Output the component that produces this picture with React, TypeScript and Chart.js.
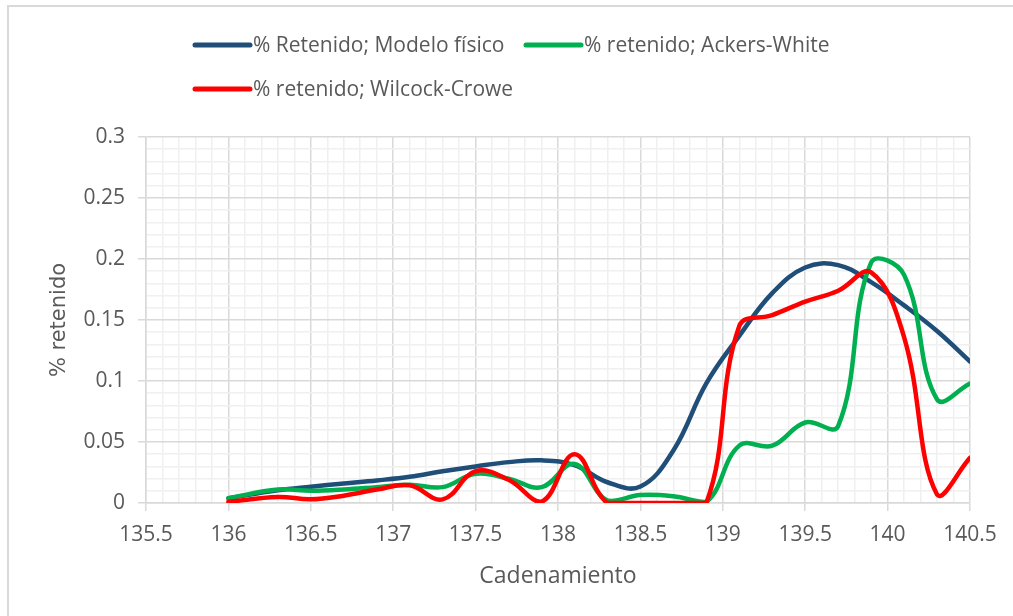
import React, { useEffect, useRef } from 'react';
import { Chart, registerables } from 'chart.js';

Chart.register(...registerables);

// ---- data ----
const cadenamiento = [136, 136.3, 136.5, 136.7, 136.9, 137.1, 137.3, 137.5, 137.7, 137.9, 138.1, 138.3, 138.5, 138.7, 138.9, 139.1, 139.3, 139.5, 139.7, 139.9, 140.1, 140.3, 140.5];
const modeloFisico = [0.004, 0.0105, 0.0134, 0.016, 0.0185, 0.0215, 0.026, 0.030, 0.0335, 0.035, 0.031, 0.017, 0.0135, 0.043, 0.098, 0.137, 0.172, 0.193, 0.195, 0.181, 0.162, 0.141, 0.116];
const ackersWhite = [0.004, 0.011, 0.010, 0.011, 0.013, 0.015, 0.013, 0.024, 0.020, 0.013, 0.032, 0.002, 0.0065, 0.0055, 0.001, 0.047, 0.047, 0.066, 0.063, 0.197, 0.187, 0.085, 0.098];
const wilcockCrowe = [0.001, 0.005, 0.003, 0.006, 0.011, 0.0145, 0.003, 0.026, 0.019, 0.001, 0.040, 0, 0, 0, 0, 0.145, 0.154, 0.165, 0.174, 0.189, 0.136, 0.007, 0.037];
const seriesLabels = ['% Retenido; Modelo físico', '% retenido; Ackers-White', '% retenido; Wilcock-Crowe'];
const seriesColors = ['#1f4e79', '#00b050', '#ff0000'];
const xAxisTitle = 'Cadenamiento';
const yAxisTitle = '% retenido';
const xRange = [135.5, 140.5];
const yRange = [0, 0.3];
const xMajorStep = 0.5;
const yMajorStep = 0.05;

const TEXT = '#595959';
const FONT = '"Open Sans", Lato, sans-serif';

const isMajor = (v: number, step: number) => Math.abs(v / step - Math.round(v / step)) < 1e-6;

const legendPlugin = {
  id: 'customLegend',
  afterDraw(chart: any) {
    const ctx = chart.ctx;
    const items = [
      { x: 195, y: 45 },
      { x: 526, y: 45 },
      { x: 195, y: 89 },
    ];
    ctx.save();
    items.forEach((it, i) => {
      ctx.strokeStyle = seriesColors[i];
      ctx.lineWidth = 5;
      ctx.lineCap = 'round';
      ctx.beginPath();
      ctx.moveTo(it.x, it.y);
      ctx.lineTo(it.x + 55, it.y);
      ctx.stroke();
      ctx.fillStyle = TEXT;
      ctx.font = `21px ${FONT}`;
      ctx.textBaseline = 'middle';
      ctx.textAlign = 'left';
      ctx.fillText(seriesLabels[i], it.x + 58, it.y + 1);
    });
    ctx.restore();
  },
};

export default function App() {
  const ref = useRef<HTMLCanvasElement | null>(null);
  useEffect(() => {
    if (!ref.current) return;
    const mk = (data: number[], i: number, order: number) => ({
      label: seriesLabels[i],
      data: cadenamiento.map((x, k) => ({ x, y: data[k] })),
      borderColor: seriesColors[i],
      backgroundColor: seriesColors[i],
      borderWidth: 4.5,
      borderCapStyle: 'round' as const,
      borderJoinStyle: 'round' as const,
      pointRadius: 0,
      tension: 0.4,
      fill: false,
      clip: 0,
      order,
    });
    const chart = new Chart(ref.current, {
      type: 'line',
      data: {
        datasets: [mk(modeloFisico, 0, 3), mk(ackersWhite, 1, 2), mk(wilcockCrowe, 2, 1)],
      },
      options: {
        animation: false,
        responsive: false,
        devicePixelRatio: 1,
        layout: { padding: { left: 0, top: 137, right: 43, bottom: 0 } },
        plugins: { legend: { display: false }, tooltip: { enabled: false } },
        scales: {
          x: {
            type: 'linear',
            min: xRange[0],
            max: xRange[1],
            afterFit: (s: any) => { s.height = 113; },
            ticks: {
              stepSize: 0.1,
              autoSkip: false,
              maxRotation: 0,
              padding: 11,
              color: TEXT,
              font: { family: FONT, size: 21 },
              callback: (v: any) => (isMajor(Number(v), xMajorStep) ? String(Number(Number(v).toFixed(1))) : ''),
            },
            grid: {
              color: (c: any) => (isMajor(c.tick.value, xMajorStep) ? '#d9d9d9' : '#f0f0f0'),
              lineWidth: 1.5,
              tickLength: 8,
              tickColor: (c: any) => (isMajor(c.tick.value, xMajorStep) ? '#d9d9d9' : 'rgba(0,0,0,0)'),
            },
            border: { color: '#d9d9d9', width: 1.5 },
            title: {
              display: true,
              text: xAxisTitle,
              color: TEXT,
              font: { family: FONT, size: 23 },
              padding: { top: 0, bottom: 26 },
            },
          },
          y: {
            type: 'linear',
            min: yRange[0],
            max: yRange[1],
            afterFit: (s: any) => { s.width = 146; },
            ticks: {
              stepSize: 0.01,
              autoSkip: false,
              padding: 13,
              color: TEXT,
              font: { family: FONT, size: 21 },
              callback: (v: any) => (isMajor(Number(v), yMajorStep) ? String(Number(Number(v).toFixed(2))) : ''),
            },
            grid: {
              color: (c: any) => (isMajor(c.tick.value, yMajorStep) ? '#d9d9d9' : '#f0f0f0'),
              lineWidth: 1.5,
              tickLength: 8,
              tickColor: (c: any) => (isMajor(c.tick.value, yMajorStep) ? '#d9d9d9' : 'rgba(0,0,0,0)'),
            },
            border: { color: '#d9d9d9', width: 1.5 },
            title: {
              display: true,
              text: yAxisTitle,
              color: TEXT,
              font: { family: '"DejaVu Sans", sans-serif', size: 21 },
              padding: { top: 47, bottom: 0 },
            },
          },
        },
      },
      plugins: [legendPlugin],
    });
    return () => chart.destroy();
  }, []);

  return (
    <div style={{ position: 'absolute', left: 0, top: 0, width: 1013, height: 616, overflow: 'hidden', background: '#fff' }}>
      <div style={{ position: 'absolute', left: 7, top: 5, width: 1020, height: 620, borderLeft: '2px solid #d9d9d9', borderTop: '2px solid #d9d9d9' }} />
      <canvas ref={ref} width={1013} height={616} style={{ position: 'absolute', left: 0, top: 0, width: 1013, height: 616 }} />
    </div>
  );
}
